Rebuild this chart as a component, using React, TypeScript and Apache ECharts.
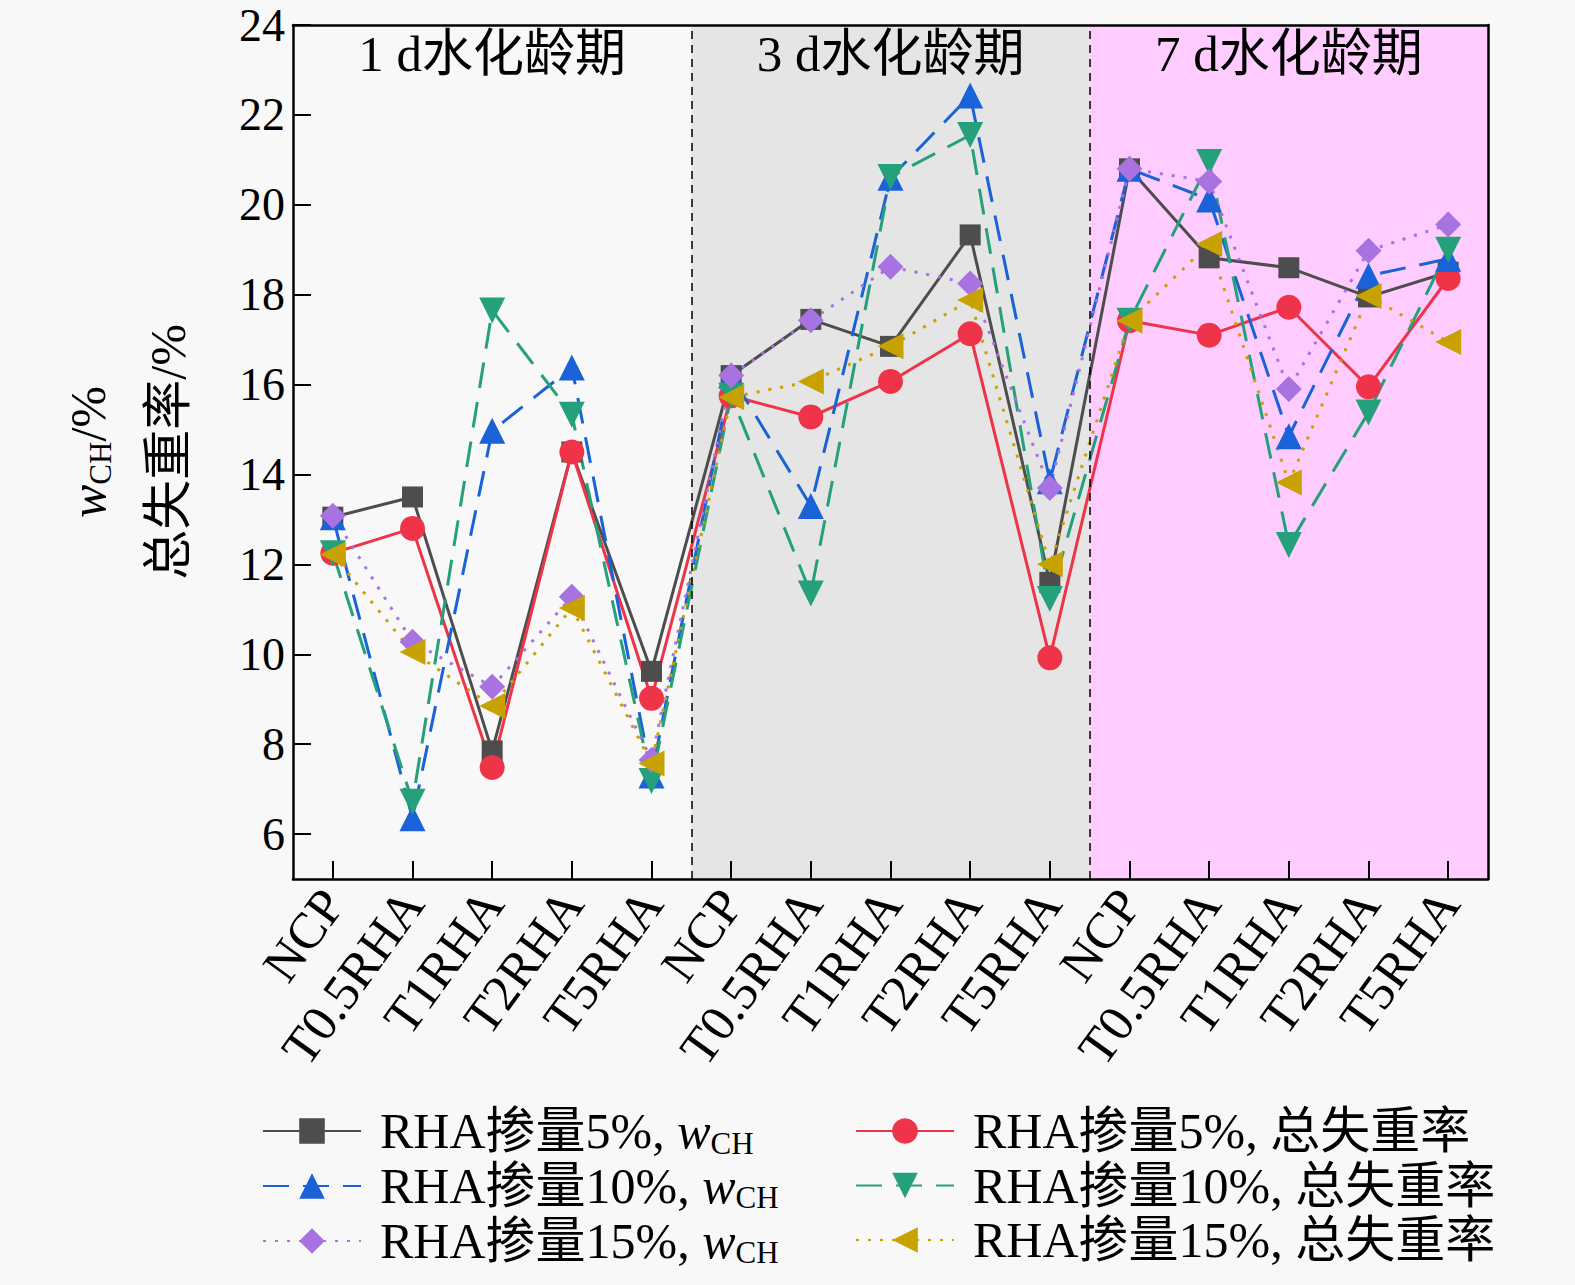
import React, { useEffect, useRef } from "react";
import * as echarts from "echarts";

const baseCats = ["NCP", "T0.5RHA", "T1RHA", "T2RHA", "T5RHA"];
const categories = [...baseCats, ...baseCats, ...baseCats];
const periods = ["1 d水化龄期", "3 d水化龄期", "7 d水化龄期"];
const periodBounds = [0, 5, 10, 15];
const periodColors = ["#f8f8f8", "#e5e5e5", "#ffccff"];
const yTicks = [6, 8, 10, 12, 14, 16, 18, 20, 22, 24];

const wch5 = [13.05, 13.5, 7.85, 14.5, 9.62, 16.2, 17.45, 16.85, 19.33, 11.6, 20.8, 18.82, 18.6, 17.95, 18.5];
const loss5 = [12.25, 12.8, 7.48, 14.5, 9.02, 15.75, 15.28, 16.07, 17.13, 9.92, 17.42, 17.1, 17.72, 15.95, 18.36];
const wch10 = [13.05, 6.35, 14.97, 16.38, 7.3, 16.2, 13.3, 20.6, 22.43, 13.85, 20.8, 20.12, 14.85, 18.42, 18.8];
const loss10 = [12.25, 6.72, 17.65, 15.33, 7.18, 15.75, 11.35, 20.62, 21.55, 11.23, 17.42, 20.95, 12.43, 15.38, 19.0];
const wch15 = [13.08, 10.28, 9.28, 11.28, 7.65, 16.2, 17.43, 18.62, 18.25, 13.7, 20.8, 20.52, 15.9, 18.98, 19.56];
const loss15 = [12.22, 10.05, 8.85, 11.03, 7.57, 15.72, 16.07, 16.85, 17.88, 12.0, 17.42, 19.13, 13.82, 17.97, 16.95];

const names = {
  wch5: "RHA掺量5%, wCH",
  wch10: "RHA掺量10%, wCH",
  wch15: "RHA掺量15%, wCH",
  loss5: "RHA掺量5%, 总失重率",
  loss10: "RHA掺量10%, 总失重率",
  loss15: "RHA掺量15%, 总失重率",
};

const FONT = "'Liberation Serif', 'Times New Roman', 'Noto Sans CJK SC', serif";
const FS = 50;

export default function App() {
  const ref = useRef<HTMLDivElement>(null);

  useEffect(() => {
    document.body.style.margin = "0";
    document.body.style.background = "#f8f8f8";
    const chart = echarts.init(ref.current!, null, { renderer: "svg" });

    const richText = {
      i: { fontStyle: "italic", fontSize: FS, fontFamily: FONT, color: "#000" },
      s: { fontSize: 31, fontFamily: FONT, color: "#000", padding: [24, 0, 0, 0] },
    };

    const mk = (
      name: string,
      data: number[],
      color: string,
      symbol: string,
      symbolSize: number,
      lineType: any,
      rotate = 0
    ) => ({
      name,
      type: "line",
      xAxisIndex: 0,
      yAxisIndex: 0,
      data,
      symbol,
      symbolSize,
      symbolRotate: rotate,
      z: 3,
      lineStyle: { color, width: 3, type: lineType },
      itemStyle: { color },
    });

    const markAreaData = periods.map((p, k) => [
      { name: p, xAxis: periodBounds[k], itemStyle: { color: periodColors[k] } },
      { xAxis: periodBounds[k + 1] },
    ]);

    const option: any = {
      animation: false,
      backgroundColor: "#f8f8f8",
      grid: { left: 293, right: 87, top: 25, bottom: 406, containLabel: false, outerBoundsMode: "none" },
      xAxis: [
        {
          type: "category",
          data: categories,
          boundaryGap: true,
          z: 10,
          axisLine: { show: true, lineStyle: { color: "#000", width: 2.5 } },
          axisTick: { show: true, inside: true, length: 18, alignWithLabel: true, lineStyle: { color: "#000", width: 2 } },
          axisLabel: { rotate: 54, fontSize: 51, fontFamily: FONT, color: "#000", margin: 16, interval: 0 },
          splitLine: { show: false },
        },
        {
          type: "value",
          min: 0,
          max: 15,
          position: "top",
          z: 10,
          axisLine: { show: true, onZero: false, lineStyle: { color: "#000", width: 2.5 } },
          axisTick: { show: false },
          axisLabel: { show: false },
          splitLine: { show: false },
        },
      ],
      yAxis: [
        {
          type: "value",
          min: 5,
          max: 24,
          z: 10,
          name: "{i|w}{s|CH}/%\n总失重率/%",
          nameLocation: "middle",
          nameGap: 85,
          nameRotate: 90,
          nameTextStyle: { fontSize: FS, fontFamily: FONT, color: "#000", lineHeight: 80, rich: richText },
          axisLine: { show: true, lineStyle: { color: "#000", width: 2.5 } },
          axisTick: { show: true, inside: true, length: 18, customValues: yTicks, lineStyle: { color: "#000", width: 2 } },
          axisLabel: { fontSize: 46, fontFamily: FONT, color: "#000", margin: 8, customValues: yTicks },
          splitLine: { show: false },
        },
        {
          type: "value",
          min: 5,
          max: 24,
          position: "right",
          z: 10,
          axisLine: { show: true, lineStyle: { color: "#000", width: 2.5 } },
          axisTick: { show: false },
          axisLabel: { show: false },
          splitLine: { show: false },
        },
      ],
      legend: [
        {
          orient: "vertical",
          left: 257,
          top: 1099,
          padding: 5,
          itemWidth: 98,
          itemHeight: 32,
          itemGap: 0.5,
          data: [names.wch5, names.wch10, names.wch15],
          formatter: (n: string) => n.replace("wCH", "{i|w}{s|CH}"),
          textStyle: { fontSize: FS, fontFamily: FONT, color: "#000", lineHeight: 54, padding: [0, 0, 0, 14], rich: richText },
        },
        {
          orient: "vertical",
          left: 850,
          top: 1099,
          padding: 5,
          itemWidth: 98,
          itemHeight: 32,
          itemGap: 0.5,
          data: [names.loss5, names.loss10, names.loss15],
          textStyle: { fontSize: FS, fontFamily: FONT, color: "#000", lineHeight: 54, padding: [0, 0, 0, 14] },
        },
      ],
      series: [
        {
          name: "bg",
          type: "line",
          xAxisIndex: 1,
          yAxisIndex: 0,
          data: [[0, 24], [15, 24]],
          symbol: "none",
          silent: true,
          z: 1,
          lineStyle: { opacity: 0 },
          markArea: {
            silent: true,
            data: markAreaData,
            label: {
              show: true,
              position: "insideTop",
              distance: 3,
              fontSize: 51,
              fontFamily: FONT,
              color: "#000",
            },
          },
          markLine: {
            silent: true,
            symbol: "none",
            label: { show: false },
            lineStyle: { color: "#000", width: 1.5, type: [8, 6] },
            data: [{ xAxis: periodBounds[1] }, { xAxis: periodBounds[2] }],
          },
        },
        mk(names.wch5, wch5, "#4d4d4d", "rect", 21, "solid"),
        mk(names.loss5, loss5, "#ef3348", "circle", 25, "solid"),
        mk(names.wch10, wch10, "#1a62d8", "triangle", 26, [26, 14]),
        mk(names.loss10, loss10, "#24a07a", "triangle", 26, [26, 14], 180),
        mk(names.wch15, wch15, "#a873e0", "diamond", 26, [3, 9]),
        mk(names.loss15, loss15, "#c8a200", "triangle", 26, [3, 9], 90),
      ],
    };

    chart.setOption(option);
    return () => chart.dispose();
  }, []);

  return <div ref={ref} style={{ width: 1575, height: 1285 }} />;
}
